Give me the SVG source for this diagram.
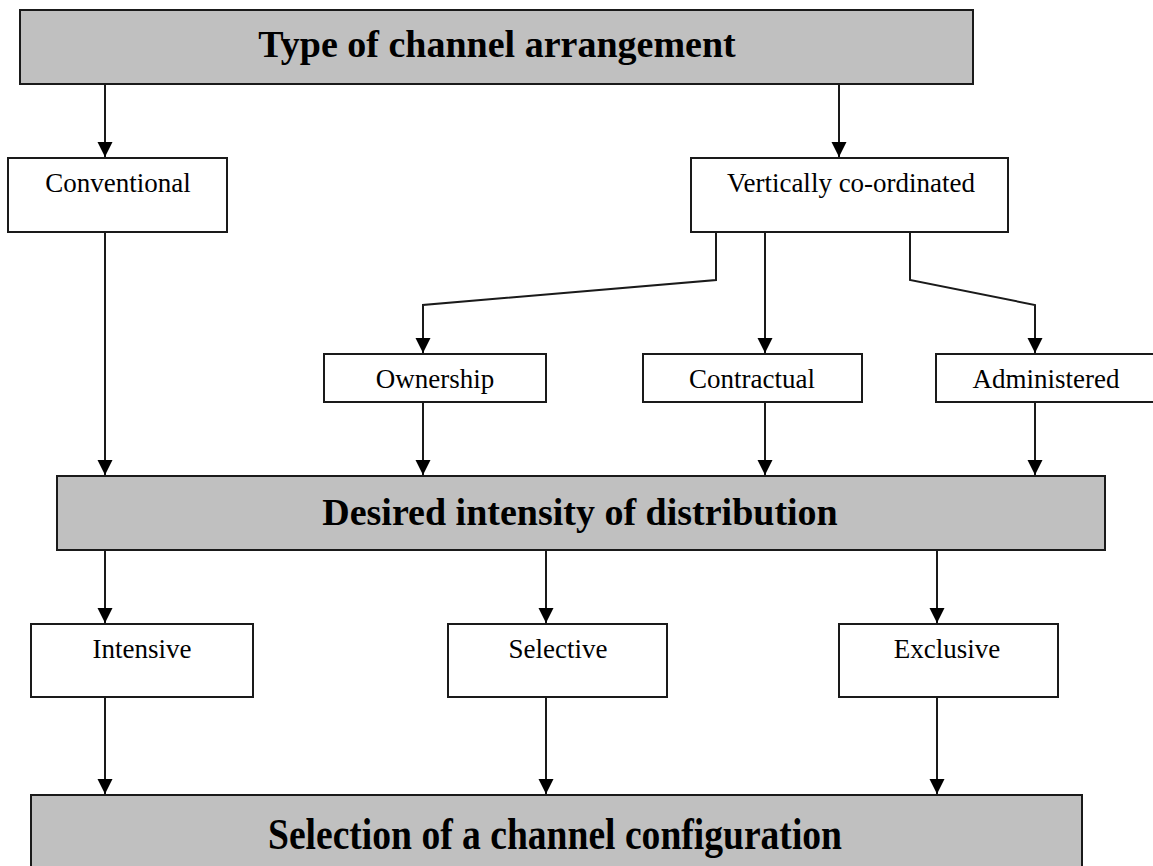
<svg xmlns="http://www.w3.org/2000/svg" width="1153" height="866" viewBox="0 0 1153 866">
<style>
.hdr{fill:#c0c0c0;stroke:#1a1a1a;stroke-width:2}
.box{fill:#ffffff;stroke:#1a1a1a;stroke-width:2}
.ht{font-family:"Liberation Serif","Times New Roman",serif;font-weight:bold;font-size:38px;fill:#000;text-anchor:middle}
.bt{font-family:"Liberation Serif","Times New Roman",serif;font-size:27px;fill:#000;text-anchor:middle}
.c{fill:none;stroke:#1a1a1a;stroke-width:2;marker-end:url(#ah)}
</style>
<defs>
<marker id="ah" markerUnits="userSpaceOnUse" markerWidth="16" markerHeight="16" refX="15" refY="7.5" orient="auto">
<path d="M0,0 L15,7.5 L0,15 z" fill="#000"/>
</marker>
</defs>
<g id="connectors">
<path class="c" d="M105,84 V157"/>
<path class="c" d="M839,84 V157"/>
<path class="c" d="M716,232 V280 L423,305 V353"/>
<path class="c" d="M765,232 V353"/>
<path class="c" d="M910,232 V280 L1035,305 V353"/>
<path class="c" d="M105,232 V475"/>
<path class="c" d="M423,402 V475"/>
<path class="c" d="M765,402 V475"/>
<path class="c" d="M1035,402 V475"/>
<path class="c" d="M105,550 V623"/>
<path class="c" d="M546,550 V623"/>
<path class="c" d="M937,550 V623"/>
<path class="c" d="M105,697 V794"/>
<path class="c" d="M546,697 V794"/>
<path class="c" d="M937,697 V794"/>
</g>
<g id="type-of-channel-arrangement">
<rect class="hdr" x="20" y="10" width="953" height="74"/>
<text class="ht" x="497" y="57">Type of channel arrangement</text>
</g>
<g id="conventional">
<rect class="box" x="8" y="158" width="219" height="74"/>
<text class="bt" x="118" y="192">Conventional</text>
</g>
<g id="vertically-coordinated">
<rect class="box" x="691" y="158" width="317" height="74"/>
<text class="bt" x="851" y="192">Vertically co-ordinated</text>
</g>
<g id="ownership">
<rect class="box" x="324" y="354" width="222" height="48"/>
<text class="bt" x="435" y="388">Ownership</text>
</g>
<g id="contractual">
<rect class="box" x="643" y="354" width="219" height="48"/>
<text class="bt" x="752" y="388">Contractual</text>
</g>
<g id="administered">
<rect class="box" x="936" y="354" width="220" height="48"/>
<text class="bt" x="1046" y="388">Administered</text>
</g>
<g id="desired-intensity">
<rect class="hdr" x="57" y="476" width="1048" height="74"/>
<text class="ht" x="580" y="525">Desired intensity of distribution</text>
</g>
<g id="intensive">
<rect class="box" x="31" y="624" width="222" height="73"/>
<text class="bt" x="142" y="658">Intensive</text>
</g>
<g id="selective">
<rect class="box" x="448" y="624" width="219" height="73"/>
<text class="bt" x="558" y="658">Selective</text>
</g>
<g id="exclusive">
<rect class="box" x="839" y="624" width="219" height="73"/>
<text class="bt" x="947" y="658">Exclusive</text>
</g>
<g id="selection-of-channel-configuration">
<rect class="hdr" x="31" y="795" width="1051" height="80"/>
<text class="ht" x="555" y="849" style="font-size:45px" textLength="574" lengthAdjust="spacingAndGlyphs">Selection of a channel configuration</text>
</g>
</svg>
